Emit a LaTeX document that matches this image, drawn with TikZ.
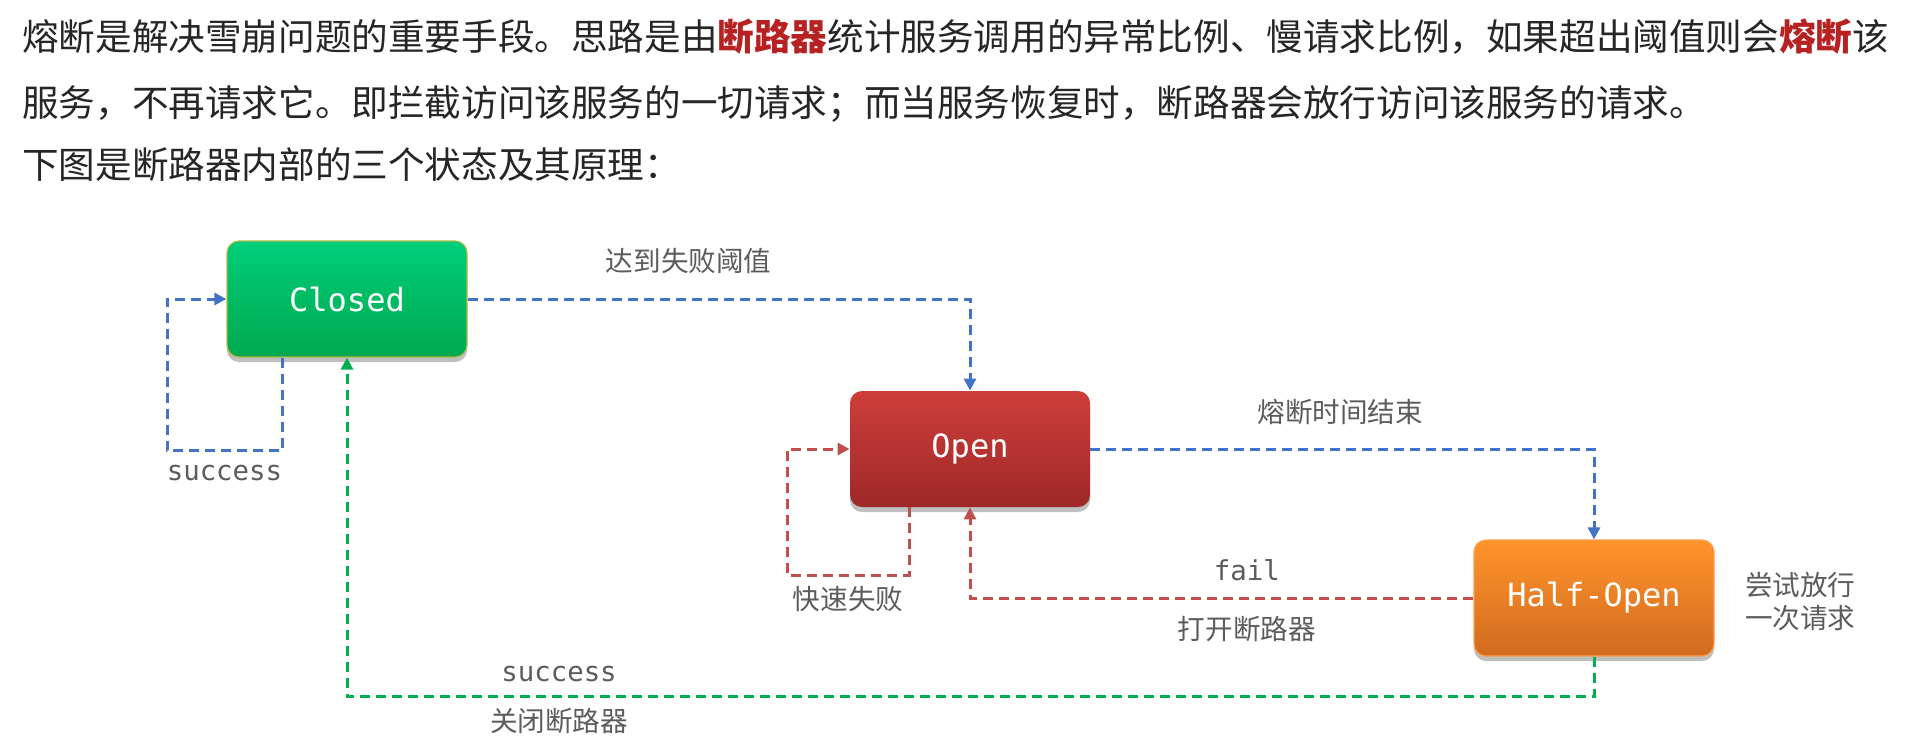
\documentclass[tikz,border=0pt]{standalone}
\usepackage{fontspec}
\setmainfont{Noto Sans CJK SC}
\newfontfamily\mono{DejaVu Sans Mono}
\usepackage{tikz}
\usetikzlibrary{
	arrows.meta,
	positioning,
	calc,
	shadows
}
\definecolor{txtesc}{RGB}{38,38,38}
\definecolor{destaque}{RGB}{183,33,33}
\definecolor{cinza}{RGB}{92,92,92}
\definecolor{azul}{RGB}{68,114,196}
\definecolor{verm}{RGB}{192,80,77}
\definecolor{verde}{RGB}{0,176,80}
\definecolor{fechtop}{RGB}{0,206,122}
\definecolor{fechbot}{RGB}{0,168,78}
\definecolor{fechbord}{RGB}{176,186,70}
\definecolor{abertop}{RGB}{206,62,58}
\definecolor{aberbot}{RGB}{158,40,40}
\definecolor{meiotop}{RGB}{255,148,42}
\definecolor{meiobot}{RGB}{210,106,32}
\definecolor{meiobord}{RGB}{250,160,80}

\begin{document}
\begin{tikzpicture}[
			x=0.5pt, y=-0.5pt,
			texto/.style={inner sep=0pt, anchor=base west, text=txtesc, font=\fontsize{18.3}{22}\selectfont},
			estado/.style={rounded corners=6pt, minimum width=120pt, minimum height=58pt, inner sep=0pt, text=white, font=\mono\fontsize{16}{19}\selectfont, drop shadow={shadow xshift=0pt, shadow yshift=-2.5pt, opacity=0.25, fill=black}},
			rotulo/.style={inner sep=0pt, text=cinza, font=\fontsize{13.8}{16.5}\selectfont},
			rotulomono/.style={inner sep=0pt, text=cinza, font=\mono\fontsize{13.7}{16}\selectfont},
			>={Triangle[length=6pt,width=6pt]},
			fl/.style={->, line width=1.5pt, dash pattern=on 5pt off 3pt}
		]

		\path[use as bounding box, fill=white] (0,0) rectangle (1911,735);

		\node[texto] (l1) at (22,50) {熔断是解决雪崩问题的重要手段。思路是由{\bfseries\color{destaque}断路器}统计服务调用的异常比例、慢请求比例，如果超出阈值则会{\bfseries\color{destaque}熔断}该};
		\node[texto] (l2) at (22,116) {服务，不再请求它。即拦截访问该服务的一切请求；而当服务恢复时，断路器会放行访问该服务的请求。};
		\node[texto] (l3) at (22,178) {下图是断路器内部的三个状态及其原理：};

		\node[estado, top color=fechtop, bottom color=fechbot, draw=fechbord, line width=0.6pt] (fech) at (347,299) {Closed};
		\node[estado, top color=abertop, bottom color=aberbot] (aber) at (970,449) {Open};
		\node[estado, top color=meiotop, bottom color=meiobot, draw=meiobord, line width=0.6pt] (meio) at (1594,598) {Half-Open};
		\node[rotulo, align=left, right=15pt of meio, yshift=-1.75pt] (tenta) {尝试放行\\一次请求};

		\draw[fl, azul] ($(fech.south)+(-65,0)$) -- ++(0,93) -- ++(-115,0) node[midway, below=6.4pt, rotulomono] {success} |- (fech.west);
		\draw[fl, azul] (fech.east) -| node[pos=0.22, above=11.8pt, rotulo] {达到失败阈值} (aber.north);
		\draw[fl, verm] ($(aber.south)+(-61,0)$) -- ++(0,68) -- ++(-122,0) node[midway, below=4.8pt, rotulo] {快速失败} |- (aber.west);
		\draw[fl, azul] (aber.east) -| node[pos=0.248, above=11.5pt, rotulo] {熔断时间结束} (meio.north);
		\draw[fl, verm] (meio.west) -| node[pos=0.225, above=8pt, rotulomono] {fail} node[pos=0.225, below=8.3pt, rotulo] {打开断路器} (aber.south);
		\draw[fl, verde] (meio.south) -- ++(0,40) -| node[pos=0.415, above=6.4pt, rotulomono] {success} node[pos=0.415, below=5.3pt, rotulo] {关闭断路器} (fech.south);
	\end{tikzpicture}
\end{document}
